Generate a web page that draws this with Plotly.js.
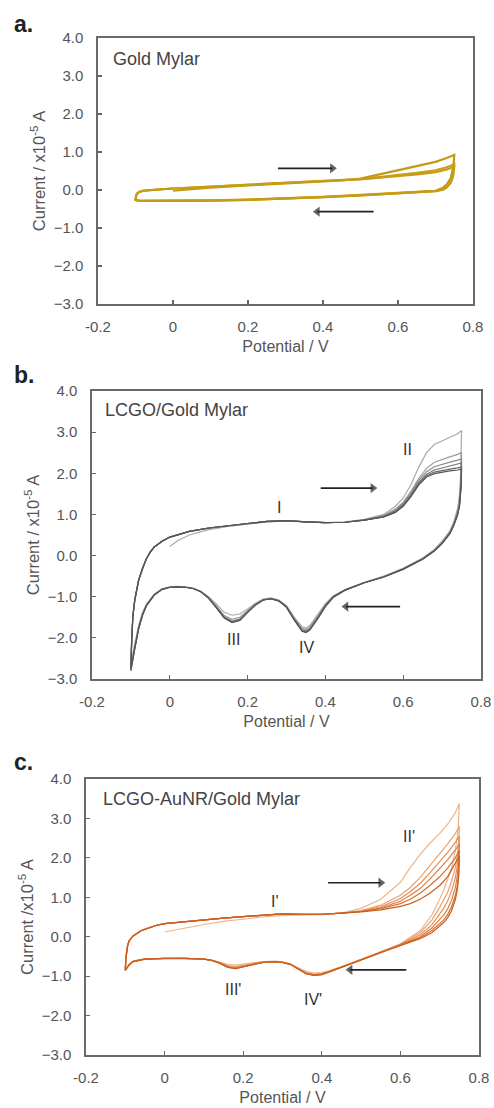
<!DOCTYPE html>
<html>
<head>
<meta charset="utf-8">
<script src="https://cdn.plot.ly/plotly-3.0.1.min.js"></script>
<style>html,body{margin:0;padding:0;background:#fff;}#chart{width:494px;height:1108px;}</style>
</head>
<body>
<div id="chart"></div>
<script>
// ---------- Axis ticks ----------
const xTickVals = [-0.2, 0, 0.2, 0.4, 0.6, 0.8];
const xTickText = ['-0.2', '0', '0.2', '0.4', '0.6', '0.8'];
const yTickVals = [-3, -2, -1, 0, 1, 2, 3, 4];

// ---------- Panel a: Gold Mylar (potential sweep, V) ----------
const potentialA = [
  0, 0.1, 0.2, 0.3, 0.4, 0.45, 0.5, 0.55, 0.6, 0.65, 0.7, 0.73, 0.75,
  0.749, 0.747, 0.744, 0.74, 0.73, 0.72, 0.7, 0.65, 0.6, 0.5, 0.4, 0.3, 0.2, 0.1, 0, -0.05, -0.09, -0.1,
  -0.1, -0.098, -0.095, -0.09, -0.08, -0.06, -0.03, 0
];
const currentA1 = [
  -0.02, 0.06, 0.12, 0.17, 0.22, 0.25, 0.3, 0.41, 0.51, 0.61, 0.74, 0.84, 0.92,
  0.75, 0.6, 0.45, 0.3, 0.15, 0.06, -0.02, -0.05, -0.08, -0.13, -0.18, -0.22, -0.25, -0.27, -0.28, -0.28, -0.28, -0.25,
  -0.2, -0.13, -0.08, -0.05, -0.02, 0.0, 0.02, 0.04
];
const currentA2 = [
  0.04, 0.09, 0.15, 0.2, 0.25, 0.27, 0.29, 0.34, 0.39, 0.45, 0.52, 0.6, 0.68,
  0.55, 0.42, 0.3, 0.2, 0.08, 0.02, -0.03, -0.06, -0.09, -0.14, -0.19, -0.23, -0.26, -0.28, -0.29, -0.29, -0.29, -0.26,
  -0.21, -0.14, -0.09, -0.05, -0.02, 0.0, 0.02, 0.04
];
const currentA3 = [
  0.04, 0.09, 0.15, 0.2, 0.24, 0.26, 0.28, 0.32, 0.36, 0.41, 0.47, 0.54, 0.61,
  0.5, 0.38, 0.27, 0.18, 0.07, 0.01, -0.03, -0.06, -0.09, -0.14, -0.19, -0.23, -0.26, -0.28, -0.29, -0.29, -0.29, -0.26,
  -0.21, -0.14, -0.09, -0.05, -0.02, 0.0, 0.02, 0.04
];

// ---------- Panel b: LCGO/Gold Mylar ----------
const potentialB = [
  0, 0.02, 0.05, 0.1, 0.15, 0.2, 0.25, 0.3, 0.35, 0.4, 0.45, 0.5, 0.55, 0.58, 0.6, 0.62, 0.64, 0.66, 0.68, 0.7, 0.72, 0.74, 0.75,
  0.749, 0.747, 0.745, 0.74, 0.73, 0.72, 0.7, 0.68, 0.65, 0.6, 0.55, 0.5, 0.45, 0.42, 0.4, 0.38, 0.36, 0.35, 0.34, 0.32, 0.3, 0.28, 0.26, 0.24, 0.22, 0.2, 0.18, 0.16, 0.14, 0.12, 0.1, 0.08, 0.06, 0.04, 0.02, 0, -0.02, -0.04, -0.06, -0.07, -0.08, -0.09, -0.1,
  -0.098, -0.095, -0.09, -0.085, -0.08, -0.07, -0.06, -0.05, -0.04, -0.02, 0
];
const currentB1 = [
  0.22, 0.36, 0.5, 0.63, 0.71, 0.77, 0.82, 0.84, 0.82, 0.8, 0.82, 0.88, 1.0, 1.2, 1.4, 1.72, 2.15, 2.5, 2.7, 2.78, 2.86, 2.96, 3.04,
  2.3, 1.8, 1.5, 1.15, 0.82, 0.6, 0.35, 0.15, -0.06, -0.31, -0.5, -0.65, -0.83, -0.98, -1.17, -1.45, -1.7, -1.76, -1.73, -1.5, -1.22, -1.08, -1.03, -1.06, -1.16, -1.3, -1.42, -1.45, -1.38, -1.18, -1.0, -0.87, -0.79, -0.76, -0.75, -0.76, -0.81, -0.94, -1.18, -1.38, -1.7, -2.15, -2.6,
  -2.0, -1.5, -1.1, -0.82, -0.62, -0.33, -0.08, 0.08, 0.2, 0.34, 0.44
];
const currentB2 = [
  0.44, 0.5, 0.58, 0.66, 0.72, 0.77, 0.82, 0.84, 0.82, 0.8, 0.81, 0.87, 0.98, 1.13, 1.3, 1.56, 1.88, 2.12, 2.27, 2.34, 2.4, 2.46, 2.5,
  2.0, 1.6, 1.35, 1.08, 0.78, 0.57, 0.32, 0.13, -0.07, -0.32, -0.51, -0.66, -0.84, -0.99, -1.19, -1.48, -1.74, -1.8, -1.77, -1.52, -1.23, -1.09, -1.04, -1.07, -1.18, -1.34, -1.5, -1.55, -1.46, -1.23, -1.02, -0.88, -0.8, -0.77, -0.76, -0.77, -0.82, -0.95, -1.2, -1.4, -1.73, -2.2, -2.68,
  -2.05, -1.48, -1.08, -0.8, -0.6, -0.32, -0.07, 0.09, 0.21, 0.35, 0.45
];
const currentB3 = [
  0.45, 0.51, 0.59, 0.67, 0.73, 0.78, 0.83, 0.85, 0.82, 0.8, 0.81, 0.86, 0.96, 1.1, 1.27, 1.52, 1.83, 2.04, 2.16, 2.22, 2.27, 2.32, 2.35,
  1.9, 1.52, 1.3, 1.04, 0.76, 0.56, 0.31, 0.12, -0.08, -0.33, -0.52, -0.66, -0.84, -1.0, -1.21, -1.5, -1.77, -1.83, -1.8, -1.54, -1.24, -1.1, -1.05, -1.08, -1.19, -1.36, -1.54, -1.59, -1.49, -1.25, -1.03, -0.88, -0.8, -0.77, -0.76, -0.77, -0.82, -0.95, -1.21, -1.42, -1.75, -2.22, -2.72,
  -2.05, -1.47, -1.07, -0.79, -0.59, -0.31, -0.07, 0.09, 0.21, 0.35, 0.45
];
const currentB4 = [
  0.45, 0.51, 0.59, 0.67, 0.73, 0.78, 0.83, 0.85, 0.82, 0.8, 0.81, 0.86, 0.95, 1.08, 1.24, 1.48, 1.78, 1.98, 2.08, 2.13, 2.18, 2.22, 2.25,
  1.8, 1.48, 1.27, 1.02, 0.75, 0.55, 0.3, 0.12, -0.08, -0.33, -0.52, -0.66, -0.84, -1.0, -1.22, -1.52, -1.79, -1.85, -1.82, -1.55, -1.25, -1.1, -1.05, -1.08, -1.2, -1.37, -1.56, -1.61, -1.5, -1.26, -1.03, -0.88, -0.8, -0.77, -0.76, -0.77, -0.82, -0.95, -1.21, -1.43, -1.76, -2.24, -2.75,
  -2.06, -1.47, -1.07, -0.79, -0.59, -0.31, -0.07, 0.09, 0.21, 0.35, 0.45
];
const currentB5 = [
  0.45, 0.51, 0.59, 0.67, 0.73, 0.78, 0.83, 0.85, 0.82, 0.8, 0.81, 0.86, 0.94, 1.06, 1.21, 1.45, 1.74, 1.94, 2.03, 2.07, 2.1, 2.13, 2.15,
  1.72, 1.44, 1.24, 1.0, 0.74, 0.54, 0.3, 0.11, -0.09, -0.33, -0.52, -0.66, -0.84, -1.01, -1.23, -1.53, -1.8, -1.86, -1.83, -1.56, -1.25, -1.1, -1.05, -1.08, -1.2, -1.38, -1.57, -1.62, -1.51, -1.27, -1.04, -0.88, -0.8, -0.77, -0.76, -0.77, -0.82, -0.96, -1.22, -1.44, -1.77, -2.25, -2.77,
  -2.08, -1.48, -1.07, -0.79, -0.59, -0.31, -0.07, 0.09, 0.21, 0.35, 0.45
];
const currentB6 = [
  0.45, 0.51, 0.59, 0.67, 0.73, 0.78, 0.83, 0.85, 0.82, 0.8, 0.81, 0.86, 0.94, 1.05, 1.2, 1.43, 1.72, 1.91, 1.99, 2.03, 2.06, 2.08, 2.1,
  1.68, 1.42, 1.22, 0.99, 0.73, 0.53, 0.29, 0.11, -0.09, -0.33, -0.52, -0.66, -0.84, -1.02, -1.24, -1.54, -1.81, -1.87, -1.84, -1.57, -1.26, -1.1, -1.05, -1.08, -1.2, -1.38, -1.58, -1.63, -1.52, -1.27, -1.04, -0.88, -0.8, -0.77, -0.76, -0.77, -0.82, -0.96, -1.22, -1.45, -1.78, -2.27, -2.8,
  -2.1, -1.48, -1.07, -0.79, -0.59, -0.31, -0.07, 0.09, 0.21, 0.35, 0.45
];

// ---------- Panel c: LCGO-AuNR/Gold Mylar ----------
const potentialC = [
  0, 0.02, 0.05, 0.1, 0.15, 0.2, 0.25, 0.3, 0.35, 0.4, 0.45, 0.5, 0.55, 0.6, 0.625, 0.65, 0.675, 0.7, 0.72, 0.74, 0.75,
  0.749, 0.747, 0.745, 0.74, 0.73, 0.72, 0.71, 0.7, 0.68, 0.65, 0.6, 0.55, 0.5, 0.45, 0.42, 0.4, 0.38, 0.36, 0.34, 0.32, 0.3, 0.28, 0.25, 0.22, 0.2, 0.18, 0.16, 0.14, 0.12, 0.1, 0.05, 0, -0.05, -0.08, -0.09, -0.1,
  -0.1, -0.099, -0.097, -0.094, -0.09, -0.08, -0.06, -0.04, -0.02, 0
];
const currentC1 = [
  0.12, 0.16, 0.22, 0.31, 0.39, 0.45, 0.5, 0.54, 0.55, 0.56, 0.6, 0.72, 0.95, 1.38, 1.75, 2.08, 2.37, 2.62, 2.85, 3.15, 3.38,
  3.0, 2.75, 2.55, 2.2, 1.72, 1.42, 1.18, 0.95, 0.55, 0.15, -0.18, -0.38, -0.58, -0.76, -0.86, -0.91, -0.92, -0.88, -0.79, -0.69, -0.64, -0.62, -0.63, -0.67, -0.7, -0.72, -0.7, -0.64, -0.59, -0.57, -0.55, -0.55, -0.56, -0.62, -0.7, -0.83,
  -0.83, -0.6, -0.38, -0.22, -0.1, 0.02, 0.15, 0.23, 0.29, 0.33
];
const currentC2 = [
  0.33, 0.35, 0.38, 0.43, 0.47, 0.51, 0.55, 0.58, 0.57, 0.57, 0.6, 0.66, 0.8, 1.05, 1.25, 1.5, 1.8, 2.1, 2.35, 2.62, 2.8,
  2.5, 2.25, 2.05, 1.75, 1.4, 1.12, 0.92, 0.75, 0.42, 0.1, -0.19, -0.39, -0.58, -0.77, -0.88, -0.93, -0.95, -0.91, -0.81, -0.7, -0.65, -0.63, -0.64, -0.69, -0.73, -0.76, -0.73, -0.65, -0.6, -0.57, -0.55, -0.55, -0.56, -0.62, -0.7, -0.84,
  -0.84, -0.6, -0.38, -0.22, -0.1, 0.02, 0.15, 0.23, 0.29, 0.33
];
const currentC3 = [
  0.33, 0.35, 0.38, 0.43, 0.47, 0.51, 0.55, 0.58, 0.57, 0.57, 0.6, 0.65, 0.76, 0.97, 1.14, 1.35, 1.62, 1.9, 2.13, 2.4, 2.55,
  2.2, 2.0, 1.82, 1.5, 1.15, 0.9, 0.72, 0.58, 0.3, 0.05, -0.2, -0.39, -0.58, -0.77, -0.89, -0.94, -0.96, -0.92, -0.81, -0.7, -0.65, -0.63, -0.65, -0.7, -0.75, -0.78, -0.75, -0.66, -0.6, -0.57, -0.55, -0.55, -0.56, -0.62, -0.7, -0.84,
  -0.84, -0.6, -0.38, -0.22, -0.1, 0.02, 0.15, 0.23, 0.29, 0.33
];
const currentC4 = [
  0.33, 0.35, 0.38, 0.43, 0.47, 0.51, 0.55, 0.58, 0.57, 0.57, 0.6, 0.64, 0.73, 0.9, 1.05, 1.22, 1.46, 1.72, 1.95, 2.2, 2.35,
  2.0, 1.75, 1.55, 1.25, 0.92, 0.7, 0.55, 0.44, 0.22, 0.0, -0.21, -0.4, -0.59, -0.77, -0.89, -0.95, -0.97, -0.93, -0.82, -0.7, -0.65, -0.63, -0.65, -0.71, -0.76, -0.8, -0.76, -0.66, -0.6, -0.57, -0.55, -0.55, -0.57, -0.63, -0.71, -0.85,
  -0.85, -0.6, -0.38, -0.22, -0.1, 0.02, 0.15, 0.23, 0.29, 0.33
];
const currentC5 = [
  0.33, 0.35, 0.38, 0.43, 0.47, 0.51, 0.55, 0.58, 0.57, 0.57, 0.6, 0.64, 0.71, 0.84, 0.95, 1.1, 1.3, 1.52, 1.74, 2.0, 2.2,
  1.8, 1.5, 1.3, 1.05, 0.75, 0.56, 0.42, 0.34, 0.16, -0.03, -0.22, -0.4, -0.59, -0.78, -0.9, -0.96, -0.98, -0.94, -0.82, -0.7, -0.65, -0.63, -0.65, -0.72, -0.77, -0.81, -0.77, -0.67, -0.6, -0.57, -0.55, -0.55, -0.57, -0.63, -0.71, -0.85,
  -0.85, -0.6, -0.38, -0.22, -0.1, 0.02, 0.15, 0.23, 0.29, 0.33
];
const currentC6 = [
  0.33, 0.35, 0.38, 0.43, 0.47, 0.51, 0.55, 0.58, 0.57, 0.57, 0.6, 0.63, 0.68, 0.77, 0.84, 0.95, 1.1, 1.3, 1.52, 1.85, 2.05,
  1.6, 1.35, 1.2, 0.95, 0.65, 0.48, 0.36, 0.27, 0.1, -0.05, -0.22, -0.4, -0.59, -0.78, -0.9, -0.96, -0.98, -0.94, -0.82, -0.7, -0.65, -0.63, -0.65, -0.72, -0.77, -0.81, -0.77, -0.67, -0.6, -0.57, -0.55, -0.55, -0.57, -0.63, -0.71, -0.86,
  -0.86, -0.6, -0.38, -0.22, -0.1, 0.02, 0.15, 0.23, 0.29, 0.33
];

// ---------- Scan-direction arrows: [tail potential, head potential, current] ----------
const arrowsA = [[0.28, 0.425, 0.57], [0.535, 0.385, -0.57]];
const arrowsB = [[0.388, 0.522, 1.64], [0.592, 0.453, -1.24]];
const arrowsC = [[0.416, 0.55, 1.37], [0.615, 0.472, -0.84]];

// ---------- Text ----------
const panelLetters = ['a.', 'b.', 'c.'];
const panelNames = ['Gold Mylar', 'LCGO/Gold Mylar', 'LCGO-AuNR/Gold Mylar'];
const yTitles = ['Current / x10<sup>-5</sup> A', 'Current / x10<sup>-5</sup> A', 'Current /x10<sup>-5</sup> A'];
const xTitle = 'Potential / V';
const peakLabelsB = ['I', 'II', 'III', 'IV'];
const peakLabelsC = ["I'", "II'", "III'", "IV'"];

// ---------- Build ----------
const FONT = 'Liberation Sans, Arial, Helvetica, sans-serif';
const colorsA = ['#c49a12', '#c9a118', '#c59c14'];
const colorsB = ['#a9a9a9', '#9a9a9a', '#8a8a8a', '#777777', '#666666', '#555555'];
const colorsC = ['#efb48a', '#e9a272', '#e29058', '#db7e42', '#d36f30', '#c95f1c'];

const traces = [];
[currentA1, currentA2, currentA3].forEach((c, i) => traces.push({
  x: potentialA, y: c, xaxis: 'x', yaxis: 'y', mode: 'lines', type: 'scatter',
  line: {color: colorsA[i], width: 2.2}, hoverinfo: 'skip', showlegend: false
}));
[currentB1, currentB2, currentB3, currentB4, currentB5, currentB6].forEach((c, i) => traces.push({
  x: potentialB, y: c, xaxis: 'x2', yaxis: 'y2', mode: 'lines', type: 'scatter',
  line: {color: colorsB[i], width: 1.2}, hoverinfo: 'skip', showlegend: false
}));
[currentC1, currentC2, currentC3, currentC4, currentC5, currentC6].forEach((c, i) => traces.push({
  x: potentialC, y: c, xaxis: 'x3', yaxis: 'y3', mode: 'lines', type: 'scatter',
  line: {color: colorsC[i], width: 1.2}, hoverinfo: 'skip', showlegend: false
}));
// arrows drawn as a line with a triangle marker at the head
[[arrowsA, 'x', 'y'], [arrowsB, 'x2', 'y2'], [arrowsC, 'x3', 'y3']].forEach(([arr, xr, yr]) => {
  arr.forEach(a => traces.push({
    x: [a[0], a[1]], y: [a[2], a[2]], xaxis: xr, yaxis: yr, type: 'scatter', mode: 'lines+markers',
    line: {color: '#222', width: 1.6},
    marker: {symbol: ['circle', a[1] > a[0] ? 'triangle-right' : 'triangle-left'], size: [0, 9], color: '#222', line: {width: 0}},
    hoverinfo: 'skip', showlegend: false
  }));
});

const W = 494, H = 1108;
function px2x(p) { return p / W; }
function px2y(p) { return 1 - p / H; }
// plot boxes in pixels [left, right, top, bottom]
const boxes = [[98, 473, 38, 304], [92, 481, 391, 679], [86, 479, 779, 1055]];

function xAxis(box, anchor) {
  return {
    domain: [px2x(box[0]), px2x(box[1])], anchor: anchor, range: [-0.2, 0.8],
    tickvals: xTickVals, ticktext: xTickText, ticks: 'inside', ticklen: 4, tickwidth: 1.2,
    tickcolor: '#666', showline: true, mirror: true, linecolor: '#6a6a6a', linewidth: 1.6,
    showgrid: false, zeroline: false, ticklabelstandoff: 8,
    tickfont: {family: FONT, size: 15, color: '#555'},
    title: {text: xTitle, font: {family: FONT, size: 16, color: '#555'}, standoff: 7}
  };
}
function yAxis(box, anchor, title) {
  return {
    domain: [px2y(box[3]), px2y(box[2])], anchor: anchor, range: [-3, 4],
    tickvals: yTickVals, tickformat: '.1f', ticks: 'inside', ticklen: 4, tickwidth: 1.2,
    tickcolor: '#666', showline: true, mirror: true, linecolor: '#6a6a6a', linewidth: 1.6,
    showgrid: false, zeroline: false, ticklabelstandoff: 10,
    tickfont: {family: FONT, size: 15, color: '#555'},
    title: {text: title, font: {family: FONT, size: 16.5, color: '#555'}, standoff: 4}
  };
}

const annotations = [];
// panel letters
const letterCenters = [24, 375, 762];
panelLetters.forEach((t, i) => annotations.push({
  text: '<b>' + t + '</b>', xref: 'paper', yref: 'paper', x: px2x(12), y: px2y(letterCenters[i]),
  xanchor: 'left', yanchor: 'middle', showarrow: false, font: {family: FONT, size: 23, color: '#222'}
}));
// inner names
const nameXY = [[-0.166, 3.46], [-0.172, 3.53], [-0.161, 3.5]];
panelNames.forEach((t, i) => annotations.push({
  text: t, xref: i === 0 ? 'x' : 'x' + (i + 1), yref: i === 0 ? 'y' : 'y' + (i + 1),
  x: nameXY[i][0], y: nameXY[i][1], xanchor: 'left', yanchor: 'middle', showarrow: false,
  font: {family: FONT, size: 18, color: '#444'}
}));
// peak labels
const peakXYB = [[0.28, 1.17], [0.611, 2.59], [0.165, -2.05], [0.352, -2.24]];
const peakXYC = [[0.281, 0.89], [0.622, 2.53], [0.175, -1.35], [0.378, -1.59]];
peakLabelsB.forEach((t, i) => annotations.push({
  text: t, xref: 'x2', yref: 'y2', x: peakXYB[i][0], y: peakXYB[i][1], showarrow: false,
  font: {family: FONT, size: 16, color: '#333'}
}));
peakLabelsC.forEach((t, i) => annotations.push({
  text: t, xref: 'x3', yref: 'y3', x: peakXYC[i][0], y: peakXYC[i][1], showarrow: false,
  font: {family: FONT, size: 16, color: '#333'}
}));

const layout = {
  width: W, height: H, margin: {l: 0, r: 0, t: 0, b: 0}, paper_bgcolor: '#fff', plot_bgcolor: '#fff',
  showlegend: false, font: {family: FONT},
  xaxis: xAxis(boxes[0], 'y'), yaxis: yAxis(boxes[0], 'x', yTitles[0]),
  xaxis2: xAxis(boxes[1], 'y2'), yaxis2: yAxis(boxes[1], 'x2', yTitles[1]),
  xaxis3: xAxis(boxes[2], 'y3'), yaxis3: yAxis(boxes[2], 'x3', yTitles[2]),
  annotations: annotations
};

Plotly.newPlot('chart', traces, layout, {staticPlot: true, displayModeBar: false});
</script>
</body>
</html>
